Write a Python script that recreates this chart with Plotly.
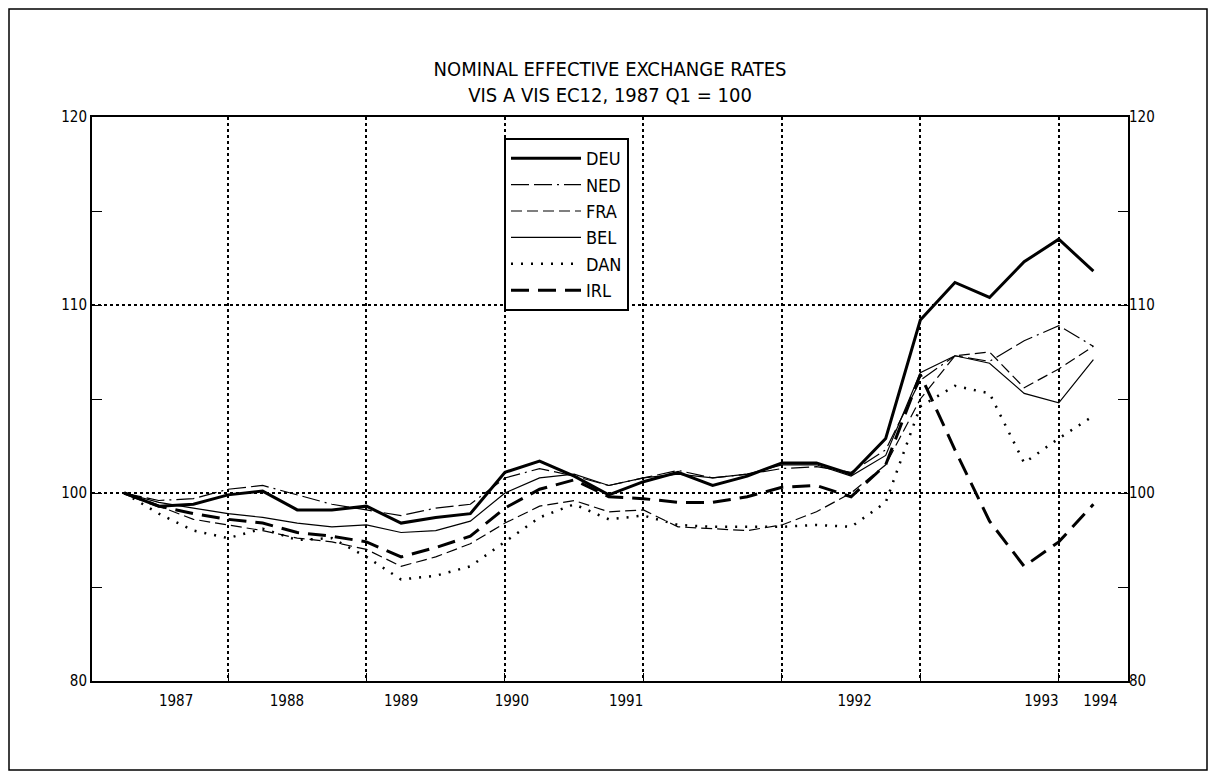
import plotly.graph_objects as go

# quarterly observations, index 0 = 1987 Q1
quarters = list(range(29))

DEU = [100, 99.3, 99.4, 99.9, 100.1, 99.1, 99.1, 99.3, 98.4, 98.7, 98.9, 101.1, 101.7, 100.9, 99.9,
       100.6, 101.1, 100.4, 100.9, 101.6, 101.6, 101.0, 102.9, 109.2, 111.2, 110.4, 112.3, 113.5, 111.8]
NED = [100, 99.6, 99.7, 100.2, 100.4, 99.9, 99.4, 99.1, 98.8, 99.2, 99.4, 100.8, 101.3, 100.9, 100.4,
       100.8, 101.2, 100.8, 101.0, 101.3, 101.4, 101.1, 102.3, 106.0, 107.3, 107.0, 108.1, 108.9, 107.8]
FRA = [100, 99.3, 98.6, 98.3, 98.0, 97.6, 97.4, 97.0, 96.1, 96.6, 97.3, 98.4, 99.3, 99.6, 99.0,
       99.1, 98.2, 98.1, 98.0, 98.3, 99.0, 100.0, 101.5, 105.0, 107.3, 107.5, 105.6, 106.6, 107.8]
BEL = [100, 99.5, 99.2, 98.9, 98.7, 98.4, 98.2, 98.3, 97.9, 98.0, 98.5, 100.0, 100.8, 101.0, 100.4,
       100.8, 101.0, 100.8, 101.0, 101.5, 101.5, 100.9, 102.0, 106.4, 107.3, 106.9, 105.3, 104.8, 107.1]
DAN = [100, 98.9, 98.0, 97.6, 98.1, 97.5, 97.6, 96.6, 95.4, 95.6, 96.1, 97.4, 98.7, 99.4, 98.6,
       98.8, 98.3, 98.2, 98.2, 98.2, 98.3, 98.2, 99.5, 104.6, 105.7, 105.3, 101.6, 102.9, 104.1]
IRL = [100, 99.3, 98.9, 98.6, 98.4, 97.9, 97.7, 97.4, 96.6, 97.1, 97.7, 99.2, 100.2, 100.7, 99.8,
       99.7, 99.5, 99.5, 99.8, 100.3, 100.4, 99.8, 101.5, 106.3, 102.3, 98.5, 96.1, 97.4, 99.4]

year_labels = ["1987", "1988", "1989", "1990", "1991", "1992", "1993", "1994"]
year_label_pos = [1.5, 4.7, 8.0, 11.2, 14.5, 21.1, 26.5, 28.2]
year_grid_pos = [3, 7, 11, 15, 19, 23, 27]

y_tick_vals = [90, 100, 110, 120]
y_tick_text = ["80", "100", "110", "120"]
y_minor_vals = [95, 105, 115]

FONT = "DejaVu Sans Condensed, Liberation Sans Narrow, DejaVu Sans, sans-serif"

series = [
    ("DEU", DEU, dict(color="black", width=3, dash="solid")),
    ("NED", NED, dict(color="black", width=1.2, dash="18px,5px,18px,5px,2px,5px")),
    ("FRA", FRA, dict(color="black", width=1.2, dash="11px,5px")),
    ("BEL", BEL, dict(color="black", width=1.2, dash="solid")),
    ("DAN", DAN, dict(color="black", width=2.5, dash="2px,8px")),
    ("IRL", IRL, dict(color="black", width=3, dash="18px,9px")),
]

fig = go.Figure()
for name, vals, line in series:
    fig.add_trace(go.Scatter(x=quarters, y=vals, name=name, mode="lines", line=line))

# the page adds an 8px body margin, so the figure is sized to fit the window
W, H = 1200, 763
ml, mr, mt, mb = 84, 80, 109, 90
pw, ph = W - ml - mr, H - mt - mb

fig.update_layout(
    width=W, height=H,
    margin=dict(l=ml, r=mr, t=mt, b=mb),
    paper_bgcolor="white", plot_bgcolor="white",
    font=dict(family=FONT, color="black", size=15),
    title=dict(text="NOMINAL EFFECTIVE EXCHANGE RATES<br>VIS A VIS EC12, 1987 Q1 = 100",
               x=0.5, xref="paper", xanchor="center", y=1 - 68 / H, yanchor="middle",
               font=dict(family=FONT, size=20, color="black")),
    showlegend=True,
    legend=dict(x=(496 - ml) / pw, y=(H - mb - 130) / ph, xanchor="left", yanchor="top",
                bordercolor="black", borderwidth=2, bgcolor="white",
                font=dict(family=FONT, size=18, color="black"),
                itemwidth=70, tracegroupgap=0),
    xaxis=dict(range=[-0.93, 29.0], tickmode="array", tickvals=year_label_pos, ticktext=year_labels,
               ticks="", showgrid=False, zeroline=False, showline=True, linecolor="black",
               linewidth=2, mirror=True, tickfont=dict(size=15), ticklabelstandoff=5,
               minor=dict(tickmode="array", tickvals=year_grid_pos, showgrid=True, griddash="dot",
                          gridcolor="black", gridwidth=1.5, ticks="inside", ticklen=8,
                          tickcolor="black")),
    yaxis=dict(range=[90, 120], tickmode="array", tickvals=y_tick_vals, ticktext=y_tick_text,
               ticks="inside", ticklen=10, tickcolor="black", showgrid=True, griddash="dot",
               gridcolor="black", gridwidth=1.5, zeroline=False, showline=True,
               linecolor="black", linewidth=2, mirror=True, tickfont=dict(size=15),
               minor=dict(tickmode="array", tickvals=y_minor_vals, ticks="inside", ticklen=10,
                          tickcolor="black")),
    yaxis2=dict(range=[90, 120], overlaying="y", side="right", tickmode="array",
                tickvals=y_tick_vals, ticktext=y_tick_text, ticks="inside", ticklen=10,
                tickcolor="black", showgrid=False, zeroline=False, showline=False,
                tickfont=dict(size=15),
                minor=dict(tickmode="array", tickvals=y_minor_vals, ticks="inside", ticklen=10,
                           tickcolor="black")),
)

# invisible trace to activate the right-hand axis
fig.add_trace(go.Scatter(x=[quarters[0]], y=[DEU[0]], yaxis="y2", mode="lines",
                         showlegend=False, hoverinfo="skip", line=dict(width=0)))

# outer frame around the whole chart
fig.add_shape(type="rect", xref="paper", yref="paper",
              x0=(1 - ml) / pw, x1=(W - 1 - ml) / pw,
              y0=-(H - 1 - (H - mb)) / ph, y1=(H - mb - 1) / ph,
              line=dict(color="black", width=1.5), fillcolor="rgba(0,0,0,0)", layer="below")

fig.write_html("out.html")
